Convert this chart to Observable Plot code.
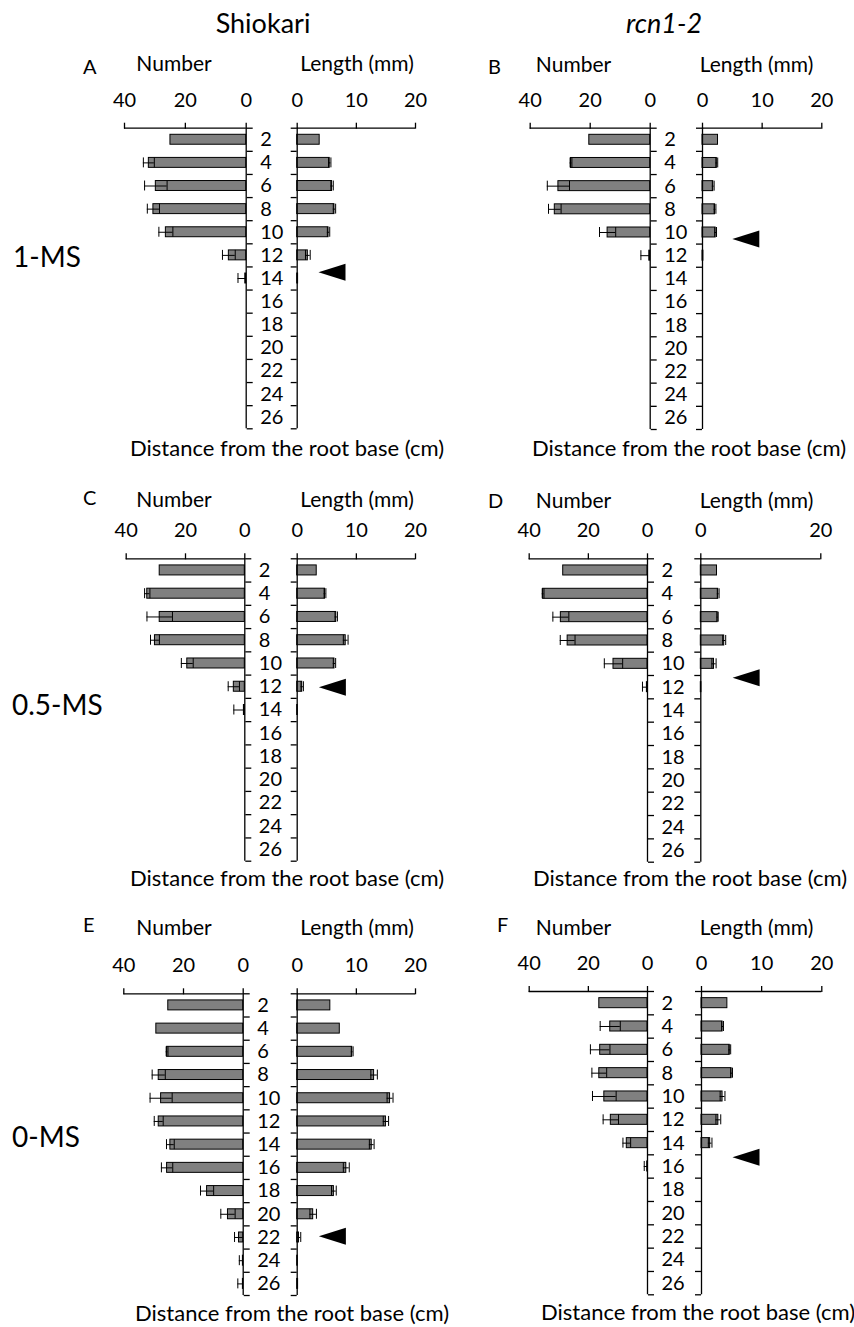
<!DOCTYPE html>
<html>
<head>
<meta charset="utf-8">
<script src="https://cdn.jsdelivr.net/npm/d3@7"></script>
<script src="https://cdn.jsdelivr.net/npm/@observablehq/plot@0.6"></script>
<style>
  html, body { margin: 0; padding: 0; background: #fff; overflow: hidden; }
  #fig { position: relative; width: 854px; height: 1327px; font-family: Lato, "Open Sans", sans-serif; }
  #fig svg { position: absolute; left: 0; top: 0; }
</style>
</head>
<body>
<div id="fig"></div>
<script>
// Distance from the root base (cm), category positions
const positions = [2, 4, 6, 8, 10, 12, 14, 16, 18, 20, 22, 24, 26];
const bandBounds = [1, 3, 5, 7, 9, 11, 13, 15, 17, 19, 21, 23, 25, 27];
const numberTicks = [0, 20, 40];
const lengthTicks = [0, 10, 20];
const lengthTicksD = [0, 20];

// Panel A : Shiokari, 1-MS
const numA   = [24.9, 32.0, 29.7, 30.5, 26.4, 5.7, 0.3, null, null, null, null, null, null];
const numSeA = [0, 1.8, 3.7, 2.0, 2.3, 2.1, 2.4, null, null, null, null, null, null];
const lenA   = [3.8, 5.5, 5.9, 6.3, 5.3, 1.8, 0.15, null, null, null, null, null, null];
const lenSeA = [0, 0.2, 0.2, 0.2, 0.2, 0.4, 0, null, null, null, null, null, null];
// Panel B : rcn1-2, 1-MS
const numB   = [20.3, 26.4, 30.6, 31.8, 14.2, 0.3, null, null, null, null, null, null, null];
const numSeB = [0, 0.3, 3.7, 2.1, 2.7, 2.8, null, null, null, null, null, null, null];
const lenB   = [2.6, 2.4, 1.8, 2.1, 2.2, 0.15, null, null, null, null, null, null, null];
const lenSeB = [0, 0.15, 0.15, 0.15, 0.15, 0, null, null, null, null, null, null, null];
// Panel C : Shiokari, 0.5-MS
const numC   = [28.7, 32.9, 28.7, 30.3, 19.4, 3.7, 0.3, null, null, null, null, null, null];
const numSeC = [0, 0.9, 4.3, 1.5, 2.0, 1.9, 3.4, null, null, null, null, null, null];
const lenC   = [3.3, 4.7, 6.6, 8.2, 6.3, 0.85, 0.1, null, null, null, null, null, null];
const lenSeC = [0, 0.15, 0.2, 0.4, 0.2, 0.2, 0, null, null, null, null, null, null];
// Panel D : rcn1-2, 0.5-MS
const numD   = [28.5, 35.3, 29.3, 27.0, 11.5, 0.2, null, null, null, null, null, null, null];
const numSeD = [0, 0.3, 2.7, 2.5, 3.1, 1.5, null, null, null, null, null, null, null];
const lenD   = [2.7, 2.9, 2.8, 3.9, 2.2, 0.1, null, null, null, null, null, null, null];
const lenSeD = [0, 0.15, 0.1, 0.25, 0.35, 0, null, null, null, null, null, null, null];
// Panel E : Shiokari, 0-MS
const numE   = [25.1, 29.1, 25.5, 28.3, 27.5, 28.3, 24.4, 25.5, 12.1, 5.1, 1.4, 0.1, 0.1];
const numSeE = [0, 0, 0.3, 2.2, 3.7, 1.5, 1.3, 1.9, 2.2, 2.4, 1.5, 1.2, 1.7];
const lenE   = [5.6, 7.2, 9.3, 13.0, 15.7, 15.0, 12.6, 8.3, 6.2, 2.7, 0.3, 0.1, 0.15];
const lenSeE = [0, 0, 0.15, 0.55, 0.5, 0.45, 0.4, 0.5, 0.4, 0.55, 0.3, 0, 0];
// Panel F : rcn1-2, 0-MS
const numF   = [16.3, 12.6, 16.0, 16.3, 14.6, 12.4, 7.0, 0.1, null, null, null, null, null];
const numSeF = [0, 3.4, 3.3, 2.5, 4.0, 2.6, 1.3, 1.0, null, null, null, null, null];
const lenF   = [4.3, 3.5, 4.7, 5.0, 3.5, 2.8, 1.44, null, null, null, null, null, null];
const lenSeF = [0, 0.15, 0.15, 0.15, 0.4, 0.4, 0.3, null, null, null, null, null, null];

// Arrowheads (tip on the Length scale, position on the distance scale)
const arrowLength   = [3.6, 5.0, 3.66, 5.3, 3.66, 5.15];
const arrowDistance = [13.45, 10.56, 12.04, 11.2, 21.9, 15.2];

// ---------- layout (pixel frame of each sub-chart) ----------
const W = 854, H = 1327;
const layout = [
  {nx: [124, 245.7],   lx: [296.7, 415],   y: [127.7, 428.3]},
  {nx: [529.7, 649.7], lx: [702, 821.3],   y: [127.7, 429]},
  {nx: [125.7, 244.3], lx: [296.7, 415],   y: [558.3, 860.7]},
  {nx: [528.7, 647],   lx: [700.3, 820.3], y: [558.3, 861.7]},
  {nx: [123.3, 242.7], lx: [296.7, 415],   y: [993.3, 1295]},
  {nx: [528.7, 647],   lx: [701, 821.3],   y: [991, 1294.3]}
];
const panels = [
  {num: numA, numSe: numSeA, len: lenA, lenSe: lenSeA, lenTicks: lengthTicks},
  {num: numB, numSe: numSeB, len: lenB, lenSe: lenSeB, lenTicks: lengthTicks},
  {num: numC, numSe: numSeC, len: lenC, lenSe: lenSeC, lenTicks: lengthTicks},
  {num: numD, numSe: numSeD, len: lenD, lenSe: lenSeD, lenTicks: lengthTicksD},
  {num: numE, numSe: numSeE, len: lenE, lenSe: lenSeE, lenTicks: lengthTicks},
  {num: numF, numSe: numSeF, len: lenF, lenSe: lenSeF, lenTicks: lengthTicks}
];

const HB = 0.43;  // half bar height in distance units
const leftTriangle = {
  draw(context) {
    context.moveTo(0, 0);
    context.lineTo(27, -8.5);
    context.lineTo(27, 8.5);
    context.closePath();
  }
};

function rows(vals, ses) {
  return positions
    .map((p, i) => ({pos: p, v: vals[i], se: ses[i] ?? 0}))
    .filter(d => d.v != null);
}

function side(kind, i) {
  const panel = panels[i], g = layout[i];
  const isNum = kind === "num";
  const data = isNum ? rows(panel.num, panel.numSe) : rows(panel.len, panel.lenSe);
  const errs = data.filter(d => d.se > 0);
  const [x0, x1] = isNum ? g.nx : g.lx;
  const marks = [
    Plot.rect(data, {
      x1: () => 0, x2: "v",
      y1: d => d.pos - HB, y2: d => d.pos + HB,
      fill: "#808080", stroke: "black", strokeWidth: 1
    }),
    Plot.ruleY(errs, {y: "pos", x1: d => Math.max(0, d.v - d.se), x2: d => d.v + d.se, stroke: "black", strokeWidth: 1}),
    Plot.ruleX(errs, {x: d => d.v + d.se, y1: d => d.pos - HB, y2: d => d.pos + HB, stroke: "black", strokeWidth: 1}),
    Plot.ruleX(errs.filter(d => d.v - d.se > 0), {x: d => d.v - d.se, y1: d => d.pos - HB, y2: d => d.pos + HB, stroke: "black", strokeWidth: 1}),
    Plot.ruleY([1], {stroke: "black", strokeWidth: 1.3}),
    Plot.ruleX([0], {stroke: "black", strokeWidth: 1.3}),
    Plot.axisX({anchor: "top", ticks: isNum ? numberTicks : panel.lenTicks, tickSize: 6, tickPadding: 15.5, label: null, strokeWidth: 1.3, fontSize: 20}),
    Plot.axisY({anchor: isNum ? "right" : "left", ticks: bandBounds, tickSize: 6, tickFormat: () => "", label: null, strokeWidth: 1.3})
  ];
  if (isNum) {
    marks.push(Plot.text(positions, {x: () => 0, y: d => d, text: d => String(d), dx: 14, textAnchor: "start", lineAnchor: "middle", fontSize: 20}));
  } else {
    marks.push(Plot.dot([{x: arrowLength[i], y: arrowDistance[i]}], {x: "x", y: "y", symbol: leftTriangle, fill: "black", stroke: null}));
  }
  return Plot.plot({
    width: W, height: H,
    marginLeft: x0, marginRight: W - x1,
    marginTop: g.y[0], marginBottom: H - g.y[1],
    x: {domain: isNum ? [0, 40] : [0, 20], reverse: isNum},
    y: {domain: [1, 27], reverse: true},
    style: {background: "transparent", overflow: "visible", fontFamily: "Lato, 'Open Sans', sans-serif", fontSize: "20px", color: "black"},
    marks
  });
}

const fig = document.getElementById("fig");
for (let i = 0; i < panels.length; ++i) {
  fig.appendChild(side("num", i));
  fig.appendChild(side("len", i));
}

// ---------- text labels ----------
const letters = ["A", "B", "C", "D", "E", "F"];
const texts = [
  {t: "Shiokari", x: 263, y: 33, a: "middle", s: 27},
  {t: "rcn1-2", x: 664, y: 33, a: "middle", s: 27, it: true},
  {t: "1-MS", x: 13, y: 266.7, a: "start", s: 28},
  {t: "0.5-MS", x: 12, y: 715, a: "start", s: 28},
  {t: "0-MS", x: 12, y: 1146.7, a: "start", s: 28}
];
const letterPos = [[83, 74], [488, 74], [83, 505], [488, 508], [83, 932], [497, 932]];
const headPos = [[174, 357, 71], [573.5, 756.5, 71.5], [174, 357, 506.7], [573.5, 756.5, 508], [174, 357, 935], [573.5, 756.5, 935]];
const distPos = [[130, 456], [532, 456], [130, 886], [533, 886], [135, 1321], [541, 1320]];
letters.forEach((L, i) => {
  texts.push({t: L, x: letterPos[i][0], y: letterPos[i][1], a: "start", s: 20});
  texts.push({t: "Number", x: headPos[i][0], y: headPos[i][2], a: "middle", s: 21});
  texts.push({t: "Length (mm)", x: headPos[i][1], y: headPos[i][2], a: "middle", s: 21});
  texts.push({t: "Distance from the root base (cm)", x: distPos[i][0], y: distPos[i][1], a: "start", s: 22});
});
const svg = d3.create("svg").attr("width", W).attr("height", H)
  .style("font-family", "Lato, 'Open Sans', sans-serif");
svg.selectAll("text").data(texts).join("text")
  .attr("x", d => d.x).attr("y", d => d.y)
  .attr("text-anchor", d => d.a)
  .attr("font-size", d => d.s)
  .attr("font-style", d => d.it ? "italic" : "normal")
  .attr("fill", "black")
  .text(d => d.t);
fig.appendChild(svg.node());
</script>
</body>
</html>
